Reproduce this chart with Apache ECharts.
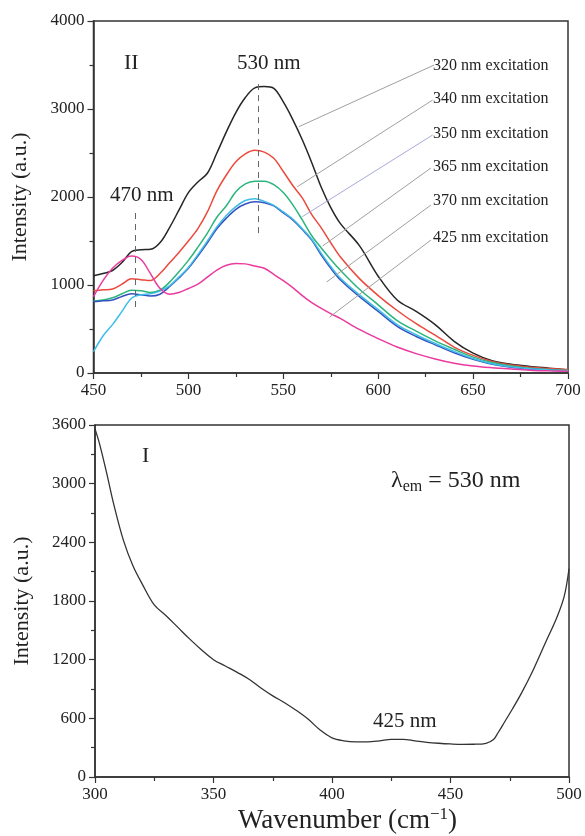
<!DOCTYPE html>
<html>
<head>
<meta charset="utf-8">
<script src="https://cdn.jsdelivr.net/npm/echarts@6/dist/echarts.min.js"></script>
<style>
  html, body { margin: 0; padding: 0; background: #fff; }
  #chart { width: 585px; height: 836px; }
</style>
</head>
<body>
<div id="chart"></div>
<script>
// panel II: emission spectra
const emWave = [450, 455, 460, 465, 470, 475, 480, 485, 490, 495, 500, 505, 510, 515, 520, 525, 530, 535, 540, 545, 550, 555, 560, 565, 570, 575, 580, 590, 600, 610, 620, 630, 640, 650, 660, 670, 680, 690, 700];
const ex320 = [1106, 1130, 1165, 1255, 1380, 1400, 1405, 1480, 1650, 1850, 2050, 2170, 2270, 2500, 2740, 2960, 3130, 3240, 3255, 3235, 3080, 2880, 2650, 2390, 2110, 1880, 1700, 1450, 1100, 830, 700, 550, 360, 225, 140, 100, 75, 55, 35];
const ex340 = [935, 945, 955, 1010, 1070, 1060, 1050, 1130, 1250, 1370, 1500, 1640, 1830, 2070, 2250, 2400, 2490, 2530, 2510, 2440, 2290, 2130, 1990, 1800, 1650, 1480, 1320, 1075, 880, 710, 560, 430, 295, 200, 130, 90, 65, 50, 40];
const ex350 = [818, 830, 855, 900, 940, 935, 915, 940, 1030, 1150, 1280, 1430, 1590, 1770, 1900, 2060, 2150, 2180, 2180, 2140, 2050, 1910, 1740, 1560, 1420, 1290, 1170, 955, 775, 595, 475, 365, 270, 180, 120, 80, 55, 40, 30];
const ex365 = [810, 820, 830, 870, 900, 890, 875, 895, 980, 1080, 1190, 1330, 1480, 1640, 1760, 1860, 1920, 1945, 1935, 1900, 1820, 1740, 1630, 1510, 1340, 1190, 1060, 870, 700, 530, 415, 320, 230, 155, 100, 65, 45, 32, 25];
const ex370 = [242, 420, 550, 700, 850, 890, 900, 930, 990, 1090, 1200, 1345, 1500, 1660, 1790, 1890, 1960, 1980, 1950, 1905, 1830, 1750, 1640, 1520, 1360, 1210, 1080, 890, 720, 550, 435, 335, 245, 165, 105, 70, 48, 35, 26];
const ex425 = [867, 1050, 1190, 1280, 1330, 1290, 1130, 962, 895, 915, 960, 1010, 1090, 1170, 1225, 1245, 1240, 1215, 1190, 1120, 1050, 970, 880, 800, 735, 675, 620, 495, 390, 295, 220, 160, 112, 80, 60, 45, 32, 25, 20];

// panel I: excitation spectrum
const exWave = [300, 302, 305, 308, 312, 316, 320, 325, 330, 335, 340, 345, 350, 355, 360, 365, 370, 375, 380, 385, 390, 395, 400, 405, 410, 415, 420, 425, 430, 435, 440, 445, 450, 455, 460, 465, 468, 470, 473, 476, 480, 485, 490, 495, 498, 500];
const exIntensity = [3560, 3400, 3100, 2780, 2420, 2160, 1970, 1760, 1650, 1530, 1410, 1300, 1200, 1135, 1070, 1000, 910, 830, 760, 680, 590, 480, 400, 370, 360, 360, 370, 385, 385, 370, 355, 345, 338, 334, 335, 345, 380, 450, 570, 690, 860, 1100, 1370, 1640, 1850, 2130];

const legendNames = ['320 nm excitation', '340 nm excitation', '350 nm excitation', '365 nm excitation', '370 nm excitation', '425 nm excitation'];
const lineColors = ['#262626', '#ec4a3c', '#2bb57c', '#3552c2', '#3ebde6', '#ea3a9f'];
// leader lines: label end -> curve end, in data units
const leaderFrom = [[629.5, 3500], [628.7, 3102], [628.7, 2705], [627.8, 2330], [627.8, 1909], [627.8, 1511]];
const leaderTo = [[558.2, 2799], [557.4, 2117], [560, 1776], [570.7, 1443], [572.8, 1034], [574.4, 636]];
const leaderColor = ['#a0a0a0', '#a0a0a0', '#a9a9d8', '#a0a0a0', '#a0a0a0', '#a0a0a0'];

const serif = '"Liberation Serif", "DejaVu Serif", serif';
const chart = echarts.init(document.getElementById('chart'));

function pairs(xs, ys) { return xs.map((x, i) => [x, ys[i]]); }

function axisStyle(extra) {
  return Object.assign({
    type: 'value',
    axisLine: { show: true, lineStyle: { color: '#333', width: 1.5 } },
    axisTick: { show: true, length: 6, lineStyle: { color: '#333', width: 1.2 } },
    minorTick: { show: true, splitNumber: 2, length: 4, lineStyle: { color: '#333', width: 1.2 } },
    splitLine: { show: false },
    axisLabel: { color: '#222', fontFamily: serif, fontSize: 17, margin: 9, formatter: v => String(v) }
  }, extra);
}

const emSeries = [ex320, ex340, ex350, ex365, ex370, ex425].map((d, i) => ({
  name: legendNames[i], type: 'line', xAxisIndex: 0, yAxisIndex: 0,
  data: pairs(emWave, d), smooth: 0.35, symbol: 'none',
  lineStyle: { color: lineColors[i], width: 1.5 }, z: 3
}));

// dashed peak markers and leader lines
emSeries[0].markLine = {
  silent: true, symbol: 'none', label: { show: false },
  data: [
    [{ coord: [472, 750], lineStyle: { type: [6, 5], color: '#666', width: 1 } }, { coord: [472, 1830] }],
    [{ coord: [537, 1590], lineStyle: { type: [6, 5], color: '#666', width: 1 } }, { coord: [537, 3330] }]
  ].concat(leaderFrom.map((p, i) => [
    { coord: p, lineStyle: { type: 'solid', color: leaderColor[i], width: 1 } },
    { coord: leaderTo[i] }
  ]))
};

const titleStyle = { fontFamily: serif, fontSize: 22, color: '#222' };

const option = {
  backgroundColor: '#fff',
  animation: false,
  textStyle: { fontFamily: serif },
  grid: [
    { left: 93.5, top: 21, width: 474.5, height: 352, show: true, borderColor: '#333', borderWidth: 1.5 },
    { left: 95, top: 425, width: 474, height: 352, show: true, borderColor: '#333', borderWidth: 1.5 }
  ],
  xAxis: [
    axisStyle({ gridIndex: 0, min: 450, max: 700, interval: 50 }),
    axisStyle({ gridIndex: 1, min: 300, max: 500, interval: 50 })
  ],
  yAxis: [
    axisStyle({
      gridIndex: 0, min: 0, max: 4000, interval: 1000,
      name: 'Intensity (a.u.)', nameLocation: 'middle', nameGap: 62, nameTextStyle: titleStyle
    }),
    axisStyle({
      gridIndex: 1, min: 0, max: 3600, interval: 600,
      name: 'Intensity (a.u.)', nameLocation: 'middle', nameGap: 62, nameTextStyle: titleStyle
    })
  ],
  series: emSeries.concat([{
    name: 'excitation', type: 'line', xAxisIndex: 1, yAxisIndex: 1,
    data: pairs(exWave, exIntensity), smooth: 0.35, symbol: 'none',
    lineStyle: { color: '#333', width: 1.3 }
  }]),
  graphic: [
    { type: 'text', left: 124, top: 52, style: { text: 'II', font: '22px ' + serif, fill: '#222' } },
    { type: 'text', left: 237, top: 53, style: { text: '530 nm', font: '21px ' + serif, fill: '#222' } },
    { type: 'text', left: 110, top: 185, style: { text: '470 nm', font: '21px ' + serif, fill: '#222' } },
    { type: 'text', left: 142, top: 445, style: { text: 'I', font: '22px ' + serif, fill: '#222' } },
    { type: 'text', left: 373, top: 711, style: { text: '425 nm', font: '21px ' + serif, fill: '#222' } },
    { type: 'text', left: 391, top: 469, style: {
      text: '{l|λ}{s|em}{l| = 530 nm}',
      rich: { l: { font: '24px ' + serif, fill: '#222' }, s: { font: '16px ' + serif, fill: '#222', padding: [12, 0, 0, 0] } } } },
    { type: 'text', left: 238, top: 806, style: {
      text: '{n|Wavenumber (cm}{s|−1}{n|)}',
      rich: { n: { font: '27px ' + serif, fill: '#222' }, s: { font: '17px ' + serif, fill: '#222', padding: [0, 0, 12, 0] } } } }
  ].concat(legendNames.map((t, i) => ({
    type: 'text', left: 433, top: [58, 91, 126, 159, 193, 230][i],
    style: { text: t, font: '16px ' + serif, fill: '#222' }
  })))
};

chart.setOption(option);
</script>
</body>
</html>
